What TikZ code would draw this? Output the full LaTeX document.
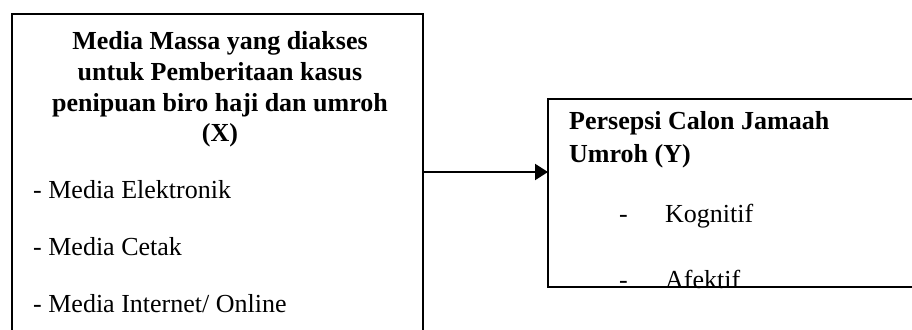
\documentclass[tikz,border=0pt]{standalone}
\usepackage{fontspec}
\setmainfont{Liberation Serif}
\usetikzlibrary{arrows.meta}
\begin{document}
\begin{tikzpicture}[x=1pt,y=-1pt,
  boxline/.style={draw, line width=1.8pt, inner sep=0pt, outer sep=0pt, rectangle, anchor=north west},
  txt/.style={inner sep=0pt, anchor=base west, font=\fontsize{26}{30}\selectfont},
  ttl/.style={inner sep=0pt, anchor=base, font=\fontsize{26}{30}\selectfont\bfseries},
  rttl/.style={txt, font=\fontsize{26}{30}\selectfont\bfseries}]
\useasboundingbox (0,0) rectangle (912,329);
\clip (0,0) rectangle (912,329);
% text of left box
\node[ttl] (t1) at (220,49) {Media Massa yang diakses};
\node[ttl] (t2) at (220,80) {untuk Pemberitaan kasus};
\node[ttl] (t3) at (220,111) {penipuan biro haji dan umroh};
\node[ttl] (t4) at (220,141) {(X)};
\node[txt] (a1) at (33,198) {- Media Elektronik};
\node[txt] (a2) at (33,255) {- Media Cetak};
\node[txt] (a3) at (33,312) {- Media Internet/ Online};
% text of right box
\node[rttl] (y1) at (569,129) {Persepsi Calon Jamaah};
\node[rttl] (y2) at (569,162) {Umroh (Y)};
\node[txt] (d1) at (619,222) {-};
\node[txt] (b1) at (665,222) {Kognitif};
\node[txt] (d2) at (619,288) {-};
\node[txt] (b2) at (665,288) {Afektif};
% boxes
\node[boxline, minimum width=411pt, minimum height=360pt] (X) at (12,14) {};
\node[boxline, minimum width=420pt, minimum height=188pt] (Y) at (548,99) {};
\coordinate (ay) at (0,172);
\draw[line width=2.2pt, -{Triangle[length=13pt,width=16pt]}] (X.east |- ay) -- (Y.west |- ay);
\end{tikzpicture}
\end{document}
